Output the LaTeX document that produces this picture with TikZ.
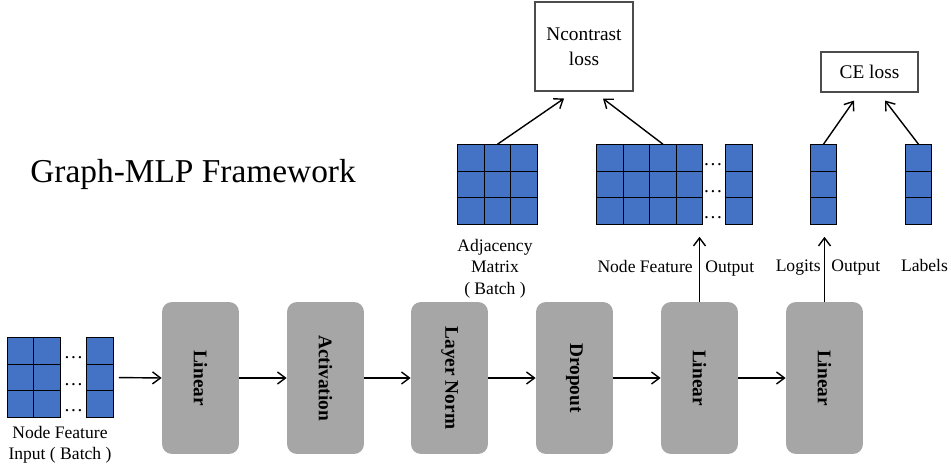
\documentclass[tikz,border=0pt]{standalone}
\usepackage{fontspec}
\setmainfont{Liberation Serif}
\usepackage{graphicx}
\usetikzlibrary{arrows.meta}

\definecolor{cellblue}{HTML}{4472C4}
\definecolor{layergray}{HTML}{A6A6A6}

\tikzset{
    cell/.style={draw, fill=cellblue, minimum size=0.53cm, inner sep=0pt, line width=0.6pt},
    dots/.style={inner sep=0pt, font=\fontsize{11}{13}\selectfont},
    layer/.style={fill=layergray, rounded corners=0.2cm, minimum width=1.54cm, minimum height=3.04cm, inner sep=0pt, font=\fontsize{11}{13}\selectfont\bfseries},
    lossbox/.style={draw=black!70, line width=0.6pt, align=center, font=\fontsize{11}{14}\selectfont},
    lbl/.style={font=\fontsize{10}{12.2}\selectfont, align=center, inner sep=0pt},
    arr/.style={-{Straight Barb[length=1.6mm, width=2.4mm]}, line width=0.8pt},
}

\begin{document}
\begin{tikzpicture}[x=0.02cm, y=-0.02cm]
    \useasboundingbox (0,0) rectangle (951,476);

    % title
    \node[inner sep=0pt, anchor=base west, font=\fontsize{19}{23}\selectfont] (title) at (30,183) {Graph-MLP Framework};

    % input batch
    \foreach \r in {0,1,2} {
        \foreach \c in {0,1}
        \node[cell] (in-\r-\c) at (20.5+26.5*\c, 351+26.5*\r) {};
        \node[cell] (in-\r-3) at (100, 351+26.5*\r) {};
        \node[dots] (ind-\r) at (73.5, 358+26.5*\r) {\dots};
    }
    \node[lbl, anchor=north] (inlbl) at (60,426) {Node Feature\\Input ( Batch )};

    % layers
    \foreach \i/\x/\t in {1/200.5/Linear, 2/325.5/Activation, 3/449.5/Layer Norm, 4/574.5/Dropout, 5/699.5/Linear, 6/824.5/Linear}
    \node[layer] (layer\i) at (\x, 378) {\rotatebox{-90}{\t}};
    \foreach \i/\j in {1/2,2/3,3/4,4/5,5/6}
    \draw[arr] (layer\i) -- (layer\j);
    \draw[arr, shorten <=0.1cm] (in-1-3.east) -- (layer1.west);

    % adjacency matrix
    \foreach \r in {0,1,2}
    \foreach \c in {0,1,2}
    \node[cell] (adj-\r-\c) at (471+26.5*\c, 158+26.5*\r) {};
    \node[lbl, anchor=north] (adjlbl) at (495,239) {Adjacency\\Matrix\\( Batch )};

    % node feature output
    \foreach \r in {0,1,2} {
        \foreach \c in {0,1,2,3}
        \node[cell] (nf-\r-\c) at (610+26.5*\c, 158+26.5*\r) {};
        \node[cell] (nf-\r-5) at (739, 158+26.5*\r) {};
        \node[dots] (nfd-\r) at (713, 165+26.5*\r) {\dots};
    }
    \draw[arr, shorten >=0.24cm] (layer5.north) -- (layer5.north |- nf-2-0.south);
    \node[lbl, anchor=base east] (nflbl) at (693,273) {Node Feature};
    \node[lbl, anchor=base west] (nfout) at (705,273) {Output};

    % logits and labels
    \foreach \r in {0,1,2} {
        \node[cell] (lg-\r) at (823.5, 158+26.5*\r) {};
        \node[cell] (lb-\r) at (918.5, 158+26.5*\r) {};
    }
    \draw[arr, shorten >=0.24cm] (layer6.north) -- (layer6.north |- lg-2.south);
    \node[lbl, anchor=base east] (lglbl) at (821,272) {Logits};
    \node[lbl, anchor=base west] (lgout) at (831,272) {Output};
    \node[lbl, anchor=base] (lblbl) at (924.5,272) {Labels};

    % losses
    \node[lossbox, minimum width=1.96cm, minimum height=1.78cm] (ncloss) at (584,46.5) {Ncontrast\\loss};
    \node[lossbox, minimum width=1.94cm, minimum height=0.8cm] (celoss) at (869.5,72) {CE loss};
    \draw[arr] (adj-0-1.north) -- ([xshift=-0.4cm, yshift=-0.14cm]ncloss.south);
    \draw[arr] (nf-0-2.north) -- ([xshift=0.38cm, yshift=-0.14cm]ncloss.south);
    \draw[arr] (lg-0.north) -- ([xshift=-0.31cm, yshift=-0.16cm]celoss.south);
    \draw[arr] (lb-0.north) -- ([xshift=0.31cm, yshift=-0.16cm]celoss.south);
\end{tikzpicture}
\end{document}
